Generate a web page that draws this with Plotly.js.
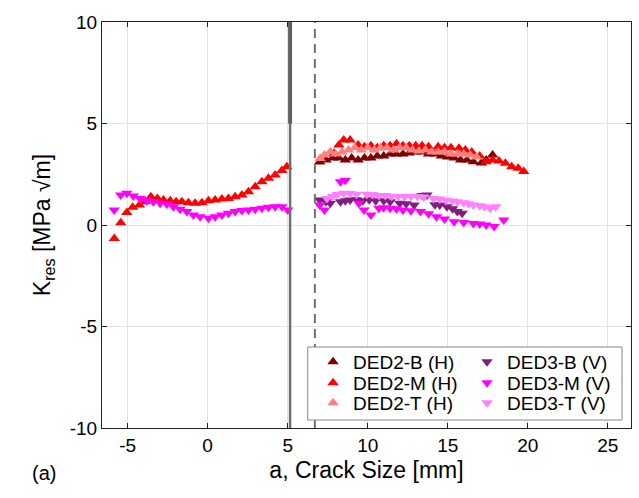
<!DOCTYPE html>
<html>
<head>
<meta charset="utf-8">
<script src="https://cdn.plot.ly/plotly-3.0.1.min.js"></script>
<style>html,body{margin:0;padding:0;background:#fff;}#chart{width:639px;height:498px;}</style>
</head>
<body>
<div id="chart"></div>
<script>
// ---- data ----
var ded2B_a = [7.0,7.4,7.8,8.2,8.6,9.0,9.4,9.8,10.2,10.6,11.0,11.4,11.8,12.2,12.6,13.0,13.4,13.8,14.2,14.6,15.0,15.4,15.8,16.2,16.6,17.1,17.4,17.8];
var ded2B_k = [3.1,3.2,3.3,3.3,3.2,3.3,3.2,3.3,3.3,3.4,3.4,3.5,3.5,3.5,3.55,3.6,3.6,3.5,3.5,3.4,3.35,3.3,3.2,3.2,3.12,3.05,3.2,3.45];

var ded2M_a = [-5.83,-5.43,-5.05,-4.68,-4.26,-3.9,-3.55,-3.14,-2.76,-2.34,-1.97,-1.61,-1.2,-0.78,-0.36,0.05,0.47,0.89,1.3,1.72,2.14,2.55,2.97,3.39,3.8,4.22,4.64,4.95,
               7.9,8.2,8.5,8.9,9.4,9.8,10.2,10.6,11.0,11.4,11.8,12.2,12.6,13.0,13.4,13.8,14.4,14.8,15.2,15.7,16.1,16.5,17.0,17.4,17.8,18.2,18.6,19.0,19.4,19.75];
var ded2M_k = [-0.66,0.11,0.61,0.87,0.99,1.15,1.39,1.31,1.23,1.2,1.15,1.15,1.1,1.07,1.1,1.2,1.23,1.28,1.31,1.39,1.48,1.64,1.89,2.13,2.3,2.46,2.68,2.87,
               3.53,3.94,4.19,4.19,3.94,3.85,3.9,3.8,3.9,3.9,4.0,3.9,3.9,3.9,3.9,3.85,3.86,3.8,3.8,3.78,3.7,3.6,3.4,3.12,3.2,3.15,3.04,2.87,2.79,2.63];

var ded2T_a = [7.03,7.3,7.66,8.0,8.4,8.8,9.2,9.6,10.0,10.4,10.8,11.2,11.6,12.0,12.4,12.8,13.2,13.6,14.0,14.4,14.8,15.2,15.6,16.0,16.4,16.8];
var ded2T_k = [3.28,3.45,3.61,3.5,3.6,3.7,3.8,3.7,3.8,3.7,3.8,3.8,3.7,3.8,3.8,3.7,3.65,3.7,3.6,3.6,3.6,3.5,3.5,3.5,3.45,3.35];

var ded3B_a = [7.0,7.4,7.66,8.3,8.6,8.9,9.3,9.7,10.1,10.5,11.0,11.4,12.0,12.4,12.9,13.4,13.7,14.2,14.5,14.95,15.3,15.6,15.9];
var ded3B_k = [1.23,1.15,1.07,1.15,1.2,1.23,1.25,1.2,1.25,1.2,1.2,1.15,1.07,1.05,0.98,1.45,1.48,1.0,0.98,0.9,0.8,0.66,0.58];

var ded3M_a = [-5.84,-5.43,-5.05,-4.64,-4.22,-3.8,-3.39,-2.97,-2.55,-2.14,-1.72,-1.3,-0.89,-0.47,0.05,0.47,0.89,1.3,1.72,2.14,2.55,2.97,3.39,3.8,4.22,4.64,5.0,
               7.0,7.3,8.3,8.6,9.45,9.77,10.2,10.7,11.0,11.4,11.8,12.2,12.7,13.3,13.8,14.3,14.8,15.4,16.0,16.6,17.0,17.4,17.9,18.5];
var ded3M_k = [0.74,1.48,1.56,1.43,1.31,1.2,1.15,1.07,1.03,0.9,0.77,0.66,0.49,0.41,0.33,0.41,0.49,0.58,0.66,0.71,0.74,0.77,0.82,0.87,0.9,0.9,0.74,
               0.98,0.74,2.13,2.2,1.07,0.74,0.49,0.82,0.85,0.82,0.8,0.74,0.7,0.66,0.55,0.41,0.3,0.16,0.12,0.08,0.05,0.0,-0.08,0.25];

var ded3T_a = [7.45,7.8,8.1,8.5,8.9,9.3,9.95,10.3,10.7,11.1,11.5,11.9,12.3,12.7,13.1,13.5,14.1,14.5,14.9,15.3,15.6,16.0,16.3,16.6,17.0,17.3,17.65,18.0];
var ded3T_k = [1.31,1.4,1.5,1.56,1.55,1.52,1.52,1.5,1.45,1.45,1.42,1.4,1.4,1.42,1.4,1.38,1.31,1.28,1.22,1.18,1.15,1.1,1.05,0.98,0.95,0.9,0.82,0.9];

var xTickVals = [-5,0,5,10,15,20,25];
var xTickText = ['-5','0','5','10','15','20','25'];
var yTickVals = [-10,-5,0,5,10];
var yTickText = ['-10','-5','0','5','10'];

var solidLineX = 5.15;
var dashedLineX = 6.7;

var FONT = 'Liberation Sans, Arial, sans-serif';

function tr(name, a, k, color, symbol, leg) {
  return {
    type: 'scatter', mode: 'markers', name: name, x: a, y: k,
    legend: leg,
    marker: {symbol: symbol, size: 10, color: color, line: {width: 0}}
  };
}

var data = [
  tr('DED2-B (H)', ded2B_a, ded2B_k, '#7f0000', 'triangle-up', 'legend'),
  tr('DED2-M (H)', ded2M_a, ded2M_k, '#ff0000', 'triangle-up', 'legend2'),
  tr('DED2-T (H)', ded2T_a, ded2T_k, '#ff7f7f', 'triangle-up', 'legend3'),
  tr('DED3-B (V)', ded3B_a, ded3B_k, '#7e1f7e', 'triangle-down', 'legend4'),
  tr('DED3-M (V)', ded3M_a, ded3M_k, '#ff00ff', 'triangle-down', 'legend5'),
  tr('DED3-T (V)', ded3T_a, ded3T_k, '#ff80ff', 'triangle-down', 'legend6')
];

var legFont = {family: FONT, size: 19, color: '#000'};
function leg(x, y) {
  return {
    orientation: 'v', x: x, xanchor: 'left', y: y, yanchor: 'middle',
    bgcolor: 'rgba(0,0,0,0)', borderwidth: 0, font: legFont,
    traceorder: 'normal', tracegroupgap: 0
  };
}
var colX = [0.399, 0.690];
var rowY = [0.1626, 0.1108, 0.0616];

var layout = {
  width: 639, height: 498,
  margin: {l: 102, r: 8, t: 22, b: 70},
  paper_bgcolor: '#fff', plot_bgcolor: '#fff',
  font: {family: FONT, size: 19, color: '#000'},
  showlegend: true,
  legend: leg(colX[0], rowY[0]),
  legend2: leg(colX[0], rowY[1]),
  legend3: leg(colX[0], rowY[2]),
  legend4: leg(colX[1], rowY[0]),
  legend5: leg(colX[1], rowY[1]),
  legend6: leg(colX[1], rowY[2]),
  xaxis: {
    range: [-6.6, 26.45], tickmode: 'array', tickvals: xTickVals, ticktext: xTickText,
    showgrid: true, gridcolor: '#e3e3e3', gridwidth: 1, zeroline: false,
    showline: true, linecolor: '#222', linewidth: 1, mirror: 'ticks',
    ticks: 'inside', ticklen: 5, tickcolor: '#222',
    tickfont: {family: FONT, size: 19, color: '#000'},
    title: {text: 'a, Crack Size [mm]', font: {family: FONT, size: 23, color: '#000'}, standoff: 7}
  },
  yaxis: {
    range: [-10, 10], tickmode: 'array', tickvals: yTickVals, ticktext: yTickText,
    showgrid: true, gridcolor: '#e3e3e3', gridwidth: 1, zeroline: false,
    showline: true, linecolor: '#222', linewidth: 1, mirror: 'ticks',
    ticks: 'inside', ticklen: 5, tickcolor: '#222',
    tickfont: {family: FONT, size: 19, color: '#000'},
    title: {text: 'K<sub>res</sub> [MPa \u221Am]', font: {family: FONT, size: 23, color: '#000'}, standoff: 12}
  },
  shapes: [
    {type: 'line', xref: 'x', yref: 'paper', x0: solidLineX, x1: solidLineX, y0: 0, y1: 1,
     line: {color: '#707070', width: 2.5}},
    {type: 'line', xref: 'x', yref: 'y', x0: solidLineX, x1: solidLineX, y0: 5, y1: 10,
     line: {color: '#606060', width: 4}},
    {type: 'line', xref: 'x', yref: 'paper', x0: dashedLineX, x1: dashedLineX, y0: 0, y1: 1,
     line: {color: '#707070', width: 2, dash: '9px,6px'}},
    {type: 'rect', xref: 'paper', yref: 'paper', x0: 0.389, x1: 0.983, y0: 0.0197, y1: 0.1995,
     layer: 'above', fillcolor: '#fff', line: {color: '#888', width: 1}}
  ],
  annotations: [
    {text: '(a)', xref: 'paper', yref: 'paper', x: -0.11, y: -0.11, xanchor: 'center', yanchor: 'middle',
     showarrow: false, font: {family: FONT, size: 20, color: '#000'}}
  ]
};

Plotly.newPlot('chart', data, layout, {displayModeBar: false, staticPlot: true});
</script>
</body>
</html>
